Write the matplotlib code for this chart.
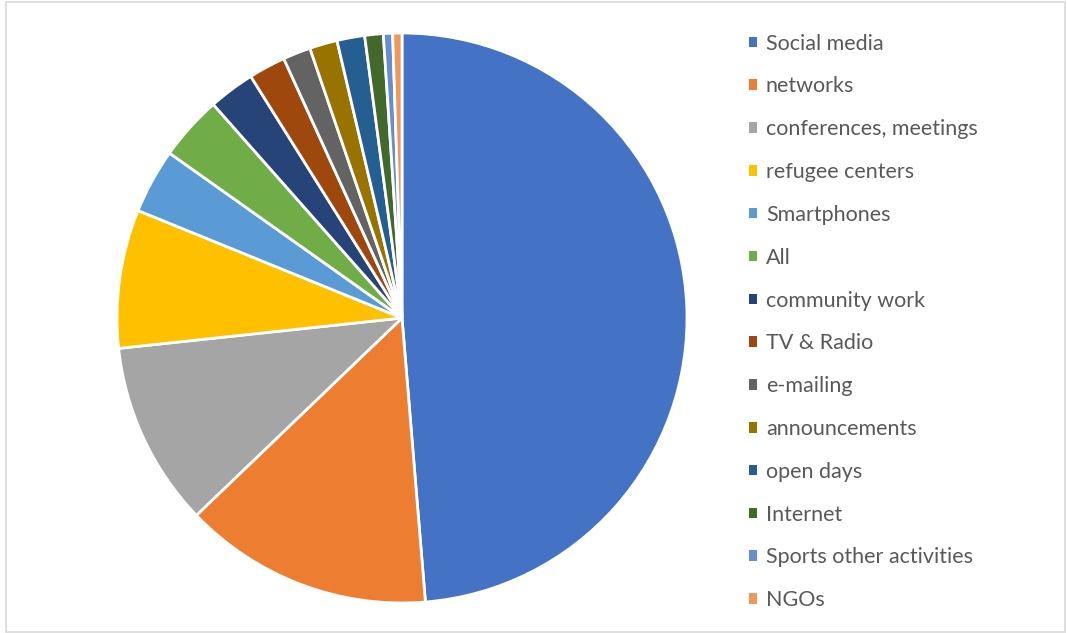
import matplotlib.pyplot as plt
from matplotlib.patches import Patch, Rectangle

labels = ['Social media', 'networks', 'conferences, meetings', 'refugee centers',
          'Smartphones', 'All', 'community work', 'TV & Radio', 'e-mailing',
          'announcements', 'open days', 'Internet', 'Sports other activities', 'NGOs']
counts = [93, 27, 20, 15, 7, 7, 5, 4, 3, 3, 3, 2, 1, 1]
colors = ['#4472C4', '#ED7D31', '#A5A5A5', '#FFC000', '#5B9BD5', '#70AD47', '#264478',
          '#9E480E', '#636363', '#997300', '#255E91', '#43682B', '#698ED0', '#F1975A']

plt.rcParams['font.family'] = ['Lato', 'DejaVu Sans']

W, H = 1067, 633
fig = plt.figure(figsize=(W / 100, H / 100), dpi=100)

# pie area: centre (402, 318), radius 285 px
cx, cy, r = 402, 318, 285
ax = fig.add_axes([(cx - r) / W, (H - cy - r) / H, 2 * r / W, 2 * r / H])
ax.pie(counts, colors=colors, startangle=90, counterclock=False, radius=1,
       wedgeprops=dict(edgecolor='white', linewidth=2))
ax.set_xlim(-1, 1)
ax.set_ylim(-1, 1)
ax.set_aspect('equal')
ax.axis('off')

handles = [Patch(facecolor=c, edgecolor='none') for c in colors]
leg = fig.legend(handles, labels, loc='upper left', bbox_to_anchor=(740 / W, 1 - 25 / H),
                 frameon=False, fontsize=15.5, labelcolor='#595959',
                 handlelength=0.38, handleheight=0.38, handletextpad=0.42,
                 labelspacing=1.06, borderaxespad=0)

# chart border
fig.patches.append(Rectangle((6 / W, 1 / H), 1059 / W, 630 / H, transform=fig.transFigure,
                             fill=False, edgecolor='#D9D9D9', linewidth=1.2))

fig.savefig('out.png', dpi=100)
